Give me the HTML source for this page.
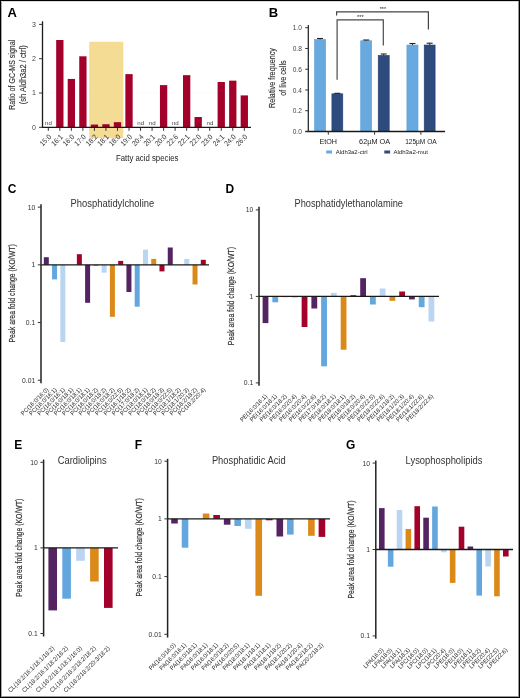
<!DOCTYPE html>
<html><head><meta charset="utf-8"><style>
html,body{margin:0;padding:0;background:#fff;}
svg{display:block;will-change:transform;}
text{font-family:"Liberation Sans",sans-serif;}
</style></head><body>
<svg width="520" height="698" viewBox="0 0 520 698">
<rect x="0" y="0" width="520" height="698" fill="#fff"/>
<text x="7.60" y="16.60" font-size="13" fill="#000" text-anchor="start" font-weight="bold">A</text>
<line x1="42.50" y1="93.00" x2="251.00" y2="93.00" stroke="#f4f4f4" stroke-width="0.6" stroke-dasharray="1.5 1.5"/>
<rect x="89.20" y="41.80" width="34.10" height="96.30" fill="#F4DC95"/>
<text x="48.50" y="124.70" font-size="6.0" fill="#444" text-anchor="middle" textLength="6.80" lengthAdjust="spacingAndGlyphs">nd</text>
<line x1="48.30" y1="127.30" x2="48.30" y2="130.80" stroke="#333" stroke-width="1"/>
<text x="51.80" y="137.50" font-size="7.4" fill="#333" text-anchor="end" textLength="12.85" lengthAdjust="spacingAndGlyphs" transform="rotate(-45 51.80 137.50)">15:0</text>
<rect x="56.18" y="40.01" width="7.30" height="87.29" fill="#A3002B"/>
<line x1="59.83" y1="127.30" x2="59.83" y2="130.80" stroke="#333" stroke-width="1"/>
<text x="63.33" y="137.50" font-size="7.4" fill="#333" text-anchor="end" textLength="12.85" lengthAdjust="spacingAndGlyphs" transform="rotate(-45 63.33 137.50)">16:1</text>
<rect x="67.71" y="78.94" width="7.30" height="48.36" fill="#A3002B"/>
<line x1="71.36" y1="127.30" x2="71.36" y2="130.80" stroke="#333" stroke-width="1"/>
<text x="74.86" y="137.50" font-size="7.4" fill="#333" text-anchor="end" textLength="12.85" lengthAdjust="spacingAndGlyphs" transform="rotate(-45 74.86 137.50)">16:0</text>
<rect x="79.24" y="56.30" width="7.30" height="71.00" fill="#A3002B"/>
<line x1="82.89" y1="127.30" x2="82.89" y2="130.80" stroke="#333" stroke-width="1"/>
<text x="86.39" y="137.50" font-size="7.4" fill="#333" text-anchor="end" textLength="12.85" lengthAdjust="spacingAndGlyphs" transform="rotate(-45 86.39 137.50)">17:0</text>
<rect x="90.77" y="124.56" width="7.30" height="2.74" fill="#A3002B"/>
<line x1="94.42" y1="127.30" x2="94.42" y2="130.80" stroke="#333" stroke-width="1"/>
<text x="97.92" y="137.50" font-size="7.4" fill="#333" text-anchor="end" textLength="12.85" lengthAdjust="spacingAndGlyphs" transform="rotate(-45 97.92 137.50)">18:2</text>
<rect x="102.30" y="124.21" width="7.30" height="3.09" fill="#A3002B"/>
<line x1="105.95" y1="127.30" x2="105.95" y2="130.80" stroke="#333" stroke-width="1"/>
<text x="109.45" y="137.50" font-size="7.4" fill="#333" text-anchor="end" textLength="12.85" lengthAdjust="spacingAndGlyphs" transform="rotate(-45 109.45 137.50)">18:1</text>
<rect x="113.83" y="122.16" width="7.30" height="5.15" fill="#A3002B"/>
<line x1="117.48" y1="127.30" x2="117.48" y2="130.80" stroke="#333" stroke-width="1"/>
<text x="120.98" y="137.50" font-size="7.4" fill="#333" text-anchor="end" textLength="12.85" lengthAdjust="spacingAndGlyphs" transform="rotate(-45 120.98 137.50)">18:0</text>
<rect x="125.36" y="74.13" width="7.30" height="53.17" fill="#A3002B"/>
<line x1="129.01" y1="127.30" x2="129.01" y2="130.80" stroke="#333" stroke-width="1"/>
<text x="132.51" y="137.50" font-size="7.4" fill="#333" text-anchor="end" textLength="12.85" lengthAdjust="spacingAndGlyphs" transform="rotate(-45 132.51 137.50)">19:0</text>
<text x="140.74" y="124.70" font-size="6.0" fill="#444" text-anchor="middle" textLength="6.80" lengthAdjust="spacingAndGlyphs">nd</text>
<line x1="140.54" y1="127.30" x2="140.54" y2="130.80" stroke="#333" stroke-width="1"/>
<text x="144.04" y="137.50" font-size="7.4" fill="#333" text-anchor="end" textLength="12.85" lengthAdjust="spacingAndGlyphs" transform="rotate(-45 144.04 137.50)">20:4</text>
<text x="152.27" y="124.70" font-size="6.0" fill="#444" text-anchor="middle" textLength="6.80" lengthAdjust="spacingAndGlyphs">nd</text>
<line x1="152.07" y1="127.30" x2="152.07" y2="130.80" stroke="#333" stroke-width="1"/>
<text x="155.57" y="137.50" font-size="7.4" fill="#333" text-anchor="end" textLength="12.85" lengthAdjust="spacingAndGlyphs" transform="rotate(-45 155.57 137.50)">20:1</text>
<rect x="159.95" y="85.11" width="7.30" height="42.19" fill="#A3002B"/>
<line x1="163.60" y1="127.30" x2="163.60" y2="130.80" stroke="#333" stroke-width="1"/>
<text x="167.10" y="137.50" font-size="7.4" fill="#333" text-anchor="end" textLength="12.85" lengthAdjust="spacingAndGlyphs" transform="rotate(-45 167.10 137.50)">20:0</text>
<text x="175.33" y="124.70" font-size="6.0" fill="#444" text-anchor="middle" textLength="6.80" lengthAdjust="spacingAndGlyphs">nd</text>
<line x1="175.13" y1="127.30" x2="175.13" y2="130.80" stroke="#333" stroke-width="1"/>
<text x="178.63" y="137.50" font-size="7.4" fill="#333" text-anchor="end" textLength="12.85" lengthAdjust="spacingAndGlyphs" transform="rotate(-45 178.63 137.50)">22:6</text>
<rect x="183.01" y="75.16" width="7.30" height="52.14" fill="#A3002B"/>
<line x1="186.66" y1="127.30" x2="186.66" y2="130.80" stroke="#333" stroke-width="1"/>
<text x="190.16" y="137.50" font-size="7.4" fill="#333" text-anchor="end" textLength="12.85" lengthAdjust="spacingAndGlyphs" transform="rotate(-45 190.16 137.50)">22:1</text>
<rect x="194.54" y="117.01" width="7.30" height="10.29" fill="#A3002B"/>
<line x1="198.19" y1="127.30" x2="198.19" y2="130.80" stroke="#333" stroke-width="1"/>
<text x="201.69" y="137.50" font-size="7.4" fill="#333" text-anchor="end" textLength="12.85" lengthAdjust="spacingAndGlyphs" transform="rotate(-45 201.69 137.50)">22:0</text>
<text x="209.92" y="124.70" font-size="6.0" fill="#444" text-anchor="middle" textLength="6.80" lengthAdjust="spacingAndGlyphs">nd</text>
<line x1="209.72" y1="127.30" x2="209.72" y2="130.80" stroke="#333" stroke-width="1"/>
<text x="213.22" y="137.50" font-size="7.4" fill="#333" text-anchor="end" textLength="12.85" lengthAdjust="spacingAndGlyphs" transform="rotate(-45 213.22 137.50)">23:0</text>
<rect x="217.60" y="82.02" width="7.30" height="45.28" fill="#A3002B"/>
<line x1="221.25" y1="127.30" x2="221.25" y2="130.80" stroke="#333" stroke-width="1"/>
<text x="224.75" y="137.50" font-size="7.4" fill="#333" text-anchor="end" textLength="12.85" lengthAdjust="spacingAndGlyphs" transform="rotate(-45 224.75 137.50)">24:1</text>
<rect x="229.13" y="80.65" width="7.30" height="46.65" fill="#A3002B"/>
<line x1="232.78" y1="127.30" x2="232.78" y2="130.80" stroke="#333" stroke-width="1"/>
<text x="236.28" y="137.50" font-size="7.4" fill="#333" text-anchor="end" textLength="12.85" lengthAdjust="spacingAndGlyphs" transform="rotate(-45 236.28 137.50)">24:0</text>
<rect x="240.66" y="95.40" width="7.30" height="31.90" fill="#A3002B"/>
<line x1="244.31" y1="127.30" x2="244.31" y2="130.80" stroke="#333" stroke-width="1"/>
<text x="247.81" y="137.50" font-size="7.4" fill="#333" text-anchor="end" textLength="12.85" lengthAdjust="spacingAndGlyphs" transform="rotate(-45 247.81 137.50)">26:0</text>
<line x1="42.50" y1="21.30" x2="42.50" y2="127.90" stroke="#1a1a1a" stroke-width="1.3"/>
<line x1="41.90" y1="127.30" x2="251.00" y2="127.30" stroke="#1a1a1a" stroke-width="1.3"/>
<line x1="39.10" y1="127.30" x2="42.50" y2="127.30" stroke="#333" stroke-width="1"/>
<text x="35.90" y="129.70" font-size="8.0" fill="#444" text-anchor="end" textLength="3.90" lengthAdjust="spacingAndGlyphs">0</text>
<line x1="39.10" y1="93.00" x2="42.50" y2="93.00" stroke="#333" stroke-width="1"/>
<text x="35.90" y="95.40" font-size="8.0" fill="#444" text-anchor="end" textLength="3.90" lengthAdjust="spacingAndGlyphs">1</text>
<line x1="39.10" y1="58.70" x2="42.50" y2="58.70" stroke="#333" stroke-width="1"/>
<text x="35.90" y="61.10" font-size="8.0" fill="#444" text-anchor="end" textLength="3.90" lengthAdjust="spacingAndGlyphs">2</text>
<line x1="39.10" y1="24.40" x2="42.50" y2="24.40" stroke="#333" stroke-width="1"/>
<text x="35.90" y="26.80" font-size="8.0" fill="#444" text-anchor="end" textLength="3.90" lengthAdjust="spacingAndGlyphs">3</text>
<text x="15.30" y="74.80" font-size="8.8" fill="#333" text-anchor="middle" textLength="70.00" lengthAdjust="spacingAndGlyphs" transform="rotate(-90 15.30 74.80)" stroke="#333" stroke-width="0.15">Ratio of GC-MS signal</text>
<text x="26.10" y="74.80" font-size="8.8" fill="#333" text-anchor="middle" textLength="59.00" lengthAdjust="spacingAndGlyphs" transform="rotate(-90 26.10 74.80)" stroke="#333" stroke-width="0.15">(sh Aldh3a2 / ctrl)</text>
<text x="147.20" y="160.90" font-size="9.2" fill="#222" text-anchor="middle" textLength="62.50" lengthAdjust="spacingAndGlyphs">Fatty acid species</text>
<text x="268.80" y="16.80" font-size="13" fill="#000" text-anchor="start" font-weight="bold">B</text>
<path d="M336.6 15.4 V11.9 H428.4 V29.6" fill="none" stroke="#444" stroke-width="1.2"/>
<path d="M337.1 79.8 V19.8 H383.3 V45.5" fill="none" stroke="#4a4a4a" stroke-width="1.2"/>
<text x="382.90" y="10.60" font-size="5.4" fill="#222" text-anchor="middle" textLength="6.40" lengthAdjust="spacingAndGlyphs">***</text>
<text x="360.40" y="18.60" font-size="5.4" fill="#222" text-anchor="middle" textLength="6.60" lengthAdjust="spacingAndGlyphs">***</text>
<rect x="314.50" y="39.53" width="11.10" height="91.97" fill="#68AAE0" stroke="#5C9FD8" stroke-width="0.6"/>
<line x1="320.05" y1="38.50" x2="320.05" y2="39.53" stroke="#222" stroke-width="0.9"/>
<line x1="317.05" y1="38.50" x2="323.05" y2="38.50" stroke="#222" stroke-width="1.1"/>
<rect x="331.90" y="93.82" width="10.90" height="37.68" fill="#2E4B7D" stroke="#223D6E" stroke-width="0.6"/>
<line x1="337.35" y1="93.30" x2="337.35" y2="93.82" stroke="#222" stroke-width="0.9"/>
<line x1="334.35" y1="93.30" x2="340.35" y2="93.30" stroke="#222" stroke-width="1.1"/>
<rect x="360.70" y="40.78" width="11.00" height="90.72" fill="#68AAE0" stroke="#5C9FD8" stroke-width="0.6"/>
<line x1="366.20" y1="40.00" x2="366.20" y2="40.78" stroke="#222" stroke-width="0.9"/>
<line x1="363.20" y1="40.00" x2="369.20" y2="40.00" stroke="#222" stroke-width="1.1"/>
<rect x="378.20" y="55.41" width="11.00" height="76.09" fill="#2E4B7D" stroke="#223D6E" stroke-width="0.6"/>
<line x1="383.70" y1="54.00" x2="383.70" y2="55.41" stroke="#222" stroke-width="0.9"/>
<line x1="380.70" y1="54.00" x2="386.70" y2="54.00" stroke="#222" stroke-width="1.1"/>
<rect x="406.90" y="45.03" width="11.10" height="86.47" fill="#68AAE0" stroke="#5C9FD8" stroke-width="0.6"/>
<line x1="412.45" y1="43.50" x2="412.45" y2="45.03" stroke="#222" stroke-width="0.9"/>
<line x1="409.45" y1="43.50" x2="415.45" y2="43.50" stroke="#222" stroke-width="1.1"/>
<rect x="424.20" y="45.03" width="10.90" height="86.47" fill="#2E4B7D" stroke="#223D6E" stroke-width="0.6"/>
<line x1="429.65" y1="43.20" x2="429.65" y2="45.03" stroke="#222" stroke-width="0.9"/>
<line x1="426.65" y1="43.20" x2="432.65" y2="43.20" stroke="#222" stroke-width="1.1"/>
<line x1="308.30" y1="25.00" x2="308.30" y2="132.10" stroke="#1a1a1a" stroke-width="1.2"/>
<line x1="305.50" y1="131.50" x2="445.00" y2="131.50" stroke="#1a1a1a" stroke-width="1.3"/>
<line x1="305.20" y1="131.50" x2="308.30" y2="131.50" stroke="#333" stroke-width="1"/>
<text x="301.90" y="134.10" font-size="7.2" fill="#444" text-anchor="end" textLength="9.20" lengthAdjust="spacingAndGlyphs">0.0</text>
<line x1="305.20" y1="110.74" x2="308.30" y2="110.74" stroke="#333" stroke-width="1"/>
<text x="301.90" y="113.34" font-size="7.2" fill="#444" text-anchor="end" textLength="9.20" lengthAdjust="spacingAndGlyphs">0.2</text>
<line x1="305.20" y1="89.98" x2="308.30" y2="89.98" stroke="#333" stroke-width="1"/>
<text x="301.90" y="92.58" font-size="7.2" fill="#444" text-anchor="end" textLength="9.20" lengthAdjust="spacingAndGlyphs">0.4</text>
<line x1="305.20" y1="69.22" x2="308.30" y2="69.22" stroke="#333" stroke-width="1"/>
<text x="301.90" y="71.82" font-size="7.2" fill="#444" text-anchor="end" textLength="9.20" lengthAdjust="spacingAndGlyphs">0.6</text>
<line x1="305.20" y1="48.46" x2="308.30" y2="48.46" stroke="#333" stroke-width="1"/>
<text x="301.90" y="51.06" font-size="7.2" fill="#444" text-anchor="end" textLength="9.20" lengthAdjust="spacingAndGlyphs">0.8</text>
<line x1="305.20" y1="27.70" x2="308.30" y2="27.70" stroke="#333" stroke-width="1"/>
<text x="301.90" y="30.30" font-size="7.2" fill="#444" text-anchor="end" textLength="9.20" lengthAdjust="spacingAndGlyphs">1.0</text>
<line x1="328.30" y1="131.50" x2="328.30" y2="134.70" stroke="#333" stroke-width="1"/>
<text x="328.30" y="143.50" font-size="6.9" fill="#1a1a1a" text-anchor="middle" textLength="17.50" lengthAdjust="spacingAndGlyphs">EtOH</text>
<line x1="374.60" y1="131.50" x2="374.60" y2="134.70" stroke="#333" stroke-width="1"/>
<text x="374.60" y="143.50" font-size="6.9" fill="#1a1a1a" text-anchor="middle" textLength="31.00" lengthAdjust="spacingAndGlyphs">62µM OA</text>
<line x1="420.90" y1="131.50" x2="420.90" y2="134.70" stroke="#333" stroke-width="1"/>
<text x="420.90" y="143.50" font-size="6.9" fill="#1a1a1a" text-anchor="middle" textLength="31.50" lengthAdjust="spacingAndGlyphs">125µM OA</text>
<rect x="326.20" y="150.50" width="5.80" height="3.00" fill="#68AAE0"/>
<text x="335.80" y="153.70" font-size="5.7" fill="#222" text-anchor="start" textLength="31.80" lengthAdjust="spacingAndGlyphs">Aldh3a2-ctrl</text>
<rect x="384.30" y="150.50" width="5.80" height="3.00" fill="#2E4B7D"/>
<text x="393.40" y="153.70" font-size="5.7" fill="#222" text-anchor="start" textLength="34.60" lengthAdjust="spacingAndGlyphs">Aldh3a2-mut</text>
<text x="275.30" y="78.00" font-size="8.4" fill="#333" text-anchor="middle" textLength="60.00" lengthAdjust="spacingAndGlyphs" transform="rotate(-90 275.30 78.00)" stroke="#333" stroke-width="0.15">Relative frequency</text>
<text x="285.90" y="78.00" font-size="8.4" fill="#333" text-anchor="middle" textLength="35.40" lengthAdjust="spacingAndGlyphs" transform="rotate(-90 285.90 78.00)" stroke="#333" stroke-width="0.15">of live cells</text>
<text x="7.80" y="193.00" font-size="13" fill="#000" text-anchor="start" textLength="8.64" lengthAdjust="spacingAndGlyphs" font-weight="bold">C</text>
<text x="70.60" y="206.90" font-size="10.6" fill="#333" text-anchor="start" textLength="83.60" lengthAdjust="spacingAndGlyphs">Phosphatidylcholine</text>
<rect x="43.80" y="257.20" width="5.00" height="7.65" fill="#532461"/>
<text x="48.80" y="390.20" font-size="6.032" fill="#2a2a2a" text-anchor="end" textLength="36.11" lengthAdjust="spacingAndGlyphs" transform="rotate(-45 48.80 390.20)">PC(16:0/16:0)</text>
<rect x="52.06" y="264.85" width="5.00" height="14.55" fill="#63A7DE"/>
<text x="57.06" y="390.20" font-size="6.032" fill="#2a2a2a" text-anchor="end" textLength="36.11" lengthAdjust="spacingAndGlyphs" transform="rotate(-45 57.06 390.20)">PC(16:0/16:1)</text>
<rect x="60.33" y="264.85" width="5.00" height="77.15" fill="#B9D5F1"/>
<text x="65.33" y="390.20" font-size="6.032" fill="#2a2a2a" text-anchor="end" textLength="36.11" lengthAdjust="spacingAndGlyphs" transform="rotate(-45 65.33 390.20)">PC(16:0/16:1)</text>
<text x="73.59" y="390.20" font-size="6.032" fill="#2a2a2a" text-anchor="end" textLength="36.11" lengthAdjust="spacingAndGlyphs" transform="rotate(-45 73.59 390.20)">PC(16:0/18:1)</text>
<rect x="76.85" y="254.20" width="5.00" height="10.65" fill="#A3002B"/>
<text x="81.85" y="390.20" font-size="6.032" fill="#2a2a2a" text-anchor="end" textLength="36.11" lengthAdjust="spacingAndGlyphs" transform="rotate(-45 81.85 390.20)">PC(16:0/18:1)</text>
<rect x="85.11" y="264.85" width="5.00" height="37.95" fill="#532461"/>
<text x="90.11" y="390.20" font-size="6.032" fill="#2a2a2a" text-anchor="end" textLength="36.11" lengthAdjust="spacingAndGlyphs" transform="rotate(-45 90.11 390.20)">PC(16:0/18:1)</text>
<rect x="93.38" y="264.85" width="5.00" height="1.00" fill="#63A7DE"/>
<text x="98.38" y="390.20" font-size="6.032" fill="#2a2a2a" text-anchor="end" textLength="36.11" lengthAdjust="spacingAndGlyphs" transform="rotate(-45 98.38 390.20)">PC(16:0/18:2)</text>
<rect x="101.64" y="264.85" width="5.00" height="7.85" fill="#B9D5F1"/>
<text x="106.64" y="390.20" font-size="6.032" fill="#2a2a2a" text-anchor="end" textLength="36.11" lengthAdjust="spacingAndGlyphs" transform="rotate(-45 106.64 390.20)">PC(16:0/18:2)</text>
<rect x="109.90" y="264.85" width="5.00" height="51.95" fill="#DB8A19"/>
<text x="114.90" y="390.20" font-size="6.032" fill="#2a2a2a" text-anchor="end" textLength="36.11" lengthAdjust="spacingAndGlyphs" transform="rotate(-45 114.90 390.20)">PC(16:0/18:2)</text>
<rect x="118.17" y="260.90" width="5.00" height="3.95" fill="#A3002B"/>
<text x="123.17" y="390.20" font-size="6.032" fill="#2a2a2a" text-anchor="end" textLength="36.11" lengthAdjust="spacingAndGlyphs" transform="rotate(-45 123.17 390.20)">PC(16:0/22:5)</text>
<rect x="126.43" y="264.85" width="5.00" height="27.15" fill="#532461"/>
<text x="131.43" y="390.20" font-size="6.032" fill="#2a2a2a" text-anchor="end" textLength="36.11" lengthAdjust="spacingAndGlyphs" transform="rotate(-45 131.43 390.20)">PC(16:1/18:2)</text>
<rect x="134.69" y="264.85" width="5.00" height="41.85" fill="#63A7DE"/>
<text x="139.69" y="390.20" font-size="6.032" fill="#2a2a2a" text-anchor="end" textLength="36.11" lengthAdjust="spacingAndGlyphs" transform="rotate(-45 139.69 390.20)">PC(17:0/18:2)</text>
<rect x="142.96" y="249.70" width="5.00" height="15.15" fill="#B9D5F1"/>
<text x="147.96" y="390.20" font-size="6.032" fill="#2a2a2a" text-anchor="end" textLength="36.11" lengthAdjust="spacingAndGlyphs" transform="rotate(-45 147.96 390.20)">PC(18:0/18:1)</text>
<rect x="151.22" y="258.90" width="5.00" height="5.95" fill="#DB8A19"/>
<text x="156.22" y="390.20" font-size="6.032" fill="#2a2a2a" text-anchor="end" textLength="36.11" lengthAdjust="spacingAndGlyphs" transform="rotate(-45 156.22 390.20)">PC(18:0/18:2)</text>
<rect x="159.48" y="264.85" width="5.00" height="6.55" fill="#A3002B"/>
<text x="164.48" y="390.20" font-size="6.032" fill="#2a2a2a" text-anchor="end" textLength="36.11" lengthAdjust="spacingAndGlyphs" transform="rotate(-45 164.48 390.20)">PC(18:0/18:3)</text>
<rect x="167.75" y="247.50" width="5.00" height="17.35" fill="#532461"/>
<text x="172.75" y="390.20" font-size="6.032" fill="#2a2a2a" text-anchor="end" textLength="36.11" lengthAdjust="spacingAndGlyphs" transform="rotate(-45 172.75 390.20)">PC(18:0/22:5)</text>
<text x="181.01" y="390.20" font-size="6.032" fill="#2a2a2a" text-anchor="end" textLength="36.11" lengthAdjust="spacingAndGlyphs" transform="rotate(-45 181.01 390.20)">PC(18:1/18:2)</text>
<rect x="184.27" y="258.90" width="5.00" height="5.95" fill="#B9D5F1"/>
<text x="189.27" y="390.20" font-size="6.032" fill="#2a2a2a" text-anchor="end" textLength="36.11" lengthAdjust="spacingAndGlyphs" transform="rotate(-45 189.27 390.20)">PC(18:1/20:3)</text>
<rect x="192.53" y="264.85" width="5.00" height="19.65" fill="#DB8A19"/>
<text x="197.53" y="390.20" font-size="6.032" fill="#2a2a2a" text-anchor="end" textLength="36.11" lengthAdjust="spacingAndGlyphs" transform="rotate(-45 197.53 390.20)">PC(18:2/18:2)</text>
<rect x="200.80" y="259.80" width="5.00" height="5.05" fill="#A3002B"/>
<text x="205.80" y="390.20" font-size="6.032" fill="#2a2a2a" text-anchor="end" textLength="36.11" lengthAdjust="spacingAndGlyphs" transform="rotate(-45 205.80 390.20)">PC(18:2/20:4)</text>
<line x1="41.00" y1="264.85" x2="209.00" y2="264.85" stroke="#1a1a1a" stroke-width="1.35"/>
<line x1="41.00" y1="204.20" x2="41.00" y2="383.20" stroke="#222" stroke-width="1.5"/>
<line x1="37.80" y1="207.15" x2="41.00" y2="207.15" stroke="#333" stroke-width="1"/>
<text x="35.20" y="209.65" font-size="7.1" fill="#333" text-anchor="end" textLength="7.56" lengthAdjust="spacingAndGlyphs">10</text>
<line x1="37.80" y1="264.85" x2="41.00" y2="264.85" stroke="#333" stroke-width="1"/>
<text x="35.20" y="267.35" font-size="7.1" fill="#333" text-anchor="end" textLength="3.78" lengthAdjust="spacingAndGlyphs">1</text>
<line x1="37.80" y1="322.55" x2="41.00" y2="322.55" stroke="#333" stroke-width="1"/>
<text x="35.20" y="325.05" font-size="7.1" fill="#333" text-anchor="end" textLength="9.45" lengthAdjust="spacingAndGlyphs">0.1</text>
<line x1="37.80" y1="380.25" x2="41.00" y2="380.25" stroke="#333" stroke-width="1"/>
<text x="35.20" y="382.75" font-size="7.1" fill="#333" text-anchor="end" textLength="13.23" lengthAdjust="spacingAndGlyphs">0.01</text>
<text x="15.00" y="293.40" font-size="8.8" fill="#333" text-anchor="middle" textLength="98.20" lengthAdjust="spacingAndGlyphs" transform="rotate(-90 15.00 293.40)" stroke="#333" stroke-width="0.2">Peak area fold change (KO/WT)</text>
<text x="225.40" y="192.80" font-size="13" fill="#000" text-anchor="start" textLength="8.64" lengthAdjust="spacingAndGlyphs" font-weight="bold">D</text>
<text x="294.50" y="206.75" font-size="10.6" fill="#333" text-anchor="start" textLength="108.50" lengthAdjust="spacingAndGlyphs">Phosphatidylethanolamine</text>
<rect x="262.60" y="296.40" width="5.80" height="26.70" fill="#532461"/>
<text x="267.70" y="396.70" font-size="6.032" fill="#2a2a2a" text-anchor="end" textLength="35.79" lengthAdjust="spacingAndGlyphs" transform="rotate(-45 267.70 396.70)">PE(16:0/16:1)</text>
<rect x="272.36" y="296.40" width="5.80" height="5.90" fill="#63A7DE"/>
<text x="277.46" y="396.70" font-size="6.032" fill="#2a2a2a" text-anchor="end" textLength="35.79" lengthAdjust="spacingAndGlyphs" transform="rotate(-45 277.46 396.70)">PE(16:0/18:1)</text>
<rect x="282.12" y="296.40" width="5.80" height="1.00" fill="#B9D5F1"/>
<text x="287.22" y="396.70" font-size="6.032" fill="#2a2a2a" text-anchor="end" textLength="35.79" lengthAdjust="spacingAndGlyphs" transform="rotate(-45 287.22 396.70)">PE(16:0/18:2)</text>
<rect x="291.88" y="296.40" width="5.80" height="1.00" fill="#DB8A19"/>
<text x="296.98" y="396.70" font-size="6.032" fill="#2a2a2a" text-anchor="end" textLength="35.79" lengthAdjust="spacingAndGlyphs" transform="rotate(-45 296.98 396.70)">PE(16:0/20:4)</text>
<rect x="301.64" y="296.40" width="5.80" height="30.60" fill="#A3002B"/>
<text x="306.74" y="396.70" font-size="6.032" fill="#2a2a2a" text-anchor="end" textLength="35.79" lengthAdjust="spacingAndGlyphs" transform="rotate(-45 306.74 396.70)">PE(16:0/20:4)</text>
<rect x="311.40" y="296.40" width="5.80" height="12.10" fill="#532461"/>
<text x="316.50" y="396.70" font-size="6.032" fill="#2a2a2a" text-anchor="end" textLength="35.79" lengthAdjust="spacingAndGlyphs" transform="rotate(-45 316.50 396.70)">PE(16:0/22:6)</text>
<rect x="321.16" y="296.40" width="5.80" height="69.90" fill="#63A7DE"/>
<text x="326.26" y="396.70" font-size="6.032" fill="#2a2a2a" text-anchor="end" textLength="35.79" lengthAdjust="spacingAndGlyphs" transform="rotate(-45 326.26 396.70)">PE(17:0/18:2)</text>
<rect x="330.92" y="292.90" width="5.80" height="3.50" fill="#B9D5F1"/>
<text x="336.02" y="396.70" font-size="6.032" fill="#2a2a2a" text-anchor="end" textLength="35.79" lengthAdjust="spacingAndGlyphs" transform="rotate(-45 336.02 396.70)">PE(18:0/18:1)</text>
<rect x="340.68" y="296.40" width="5.80" height="53.30" fill="#DB8A19"/>
<text x="345.78" y="396.70" font-size="6.032" fill="#2a2a2a" text-anchor="end" textLength="35.79" lengthAdjust="spacingAndGlyphs" transform="rotate(-45 345.78 396.70)">PE(18:0/18:1)</text>
<rect x="350.44" y="295.20" width="5.80" height="1.20" fill="#A3002B"/>
<text x="355.54" y="396.70" font-size="6.032" fill="#2a2a2a" text-anchor="end" textLength="35.79" lengthAdjust="spacingAndGlyphs" transform="rotate(-45 355.54 396.70)">PE(18:0/18:2)</text>
<rect x="360.20" y="278.20" width="5.80" height="18.20" fill="#532461"/>
<text x="365.30" y="396.70" font-size="6.032" fill="#2a2a2a" text-anchor="end" textLength="35.79" lengthAdjust="spacingAndGlyphs" transform="rotate(-45 365.30 396.70)">PE(18:0/20:4)</text>
<rect x="369.96" y="296.40" width="5.80" height="8.10" fill="#63A7DE"/>
<text x="375.06" y="396.70" font-size="6.032" fill="#2a2a2a" text-anchor="end" textLength="35.79" lengthAdjust="spacingAndGlyphs" transform="rotate(-45 375.06 396.70)">PE(18:0/22:5)</text>
<rect x="379.72" y="288.50" width="5.80" height="7.90" fill="#B9D5F1"/>
<text x="384.82" y="396.70" font-size="6.032" fill="#2a2a2a" text-anchor="end" textLength="35.79" lengthAdjust="spacingAndGlyphs" transform="rotate(-45 384.82 396.70)">PE(18:0/22:6)</text>
<rect x="389.48" y="296.40" width="5.80" height="4.40" fill="#DB8A19"/>
<text x="394.58" y="396.70" font-size="6.032" fill="#2a2a2a" text-anchor="end" textLength="35.79" lengthAdjust="spacingAndGlyphs" transform="rotate(-45 394.58 396.70)">PE(18:1/18:2)</text>
<rect x="399.24" y="291.50" width="5.80" height="4.90" fill="#A3002B"/>
<text x="404.34" y="396.70" font-size="6.032" fill="#2a2a2a" text-anchor="end" textLength="35.79" lengthAdjust="spacingAndGlyphs" transform="rotate(-45 404.34 396.70)">PE(18:1/20:3)</text>
<rect x="409.00" y="296.40" width="5.80" height="3.00" fill="#532461"/>
<text x="414.10" y="396.70" font-size="6.032" fill="#2a2a2a" text-anchor="end" textLength="35.79" lengthAdjust="spacingAndGlyphs" transform="rotate(-45 414.10 396.70)">PE(18:1/20:4)</text>
<rect x="418.76" y="296.40" width="5.80" height="10.80" fill="#63A7DE"/>
<text x="423.86" y="396.70" font-size="6.032" fill="#2a2a2a" text-anchor="end" textLength="35.79" lengthAdjust="spacingAndGlyphs" transform="rotate(-45 423.86 396.70)">PE(18:1/22:6)</text>
<rect x="428.52" y="296.40" width="5.80" height="25.10" fill="#B9D5F1"/>
<text x="433.62" y="396.70" font-size="6.032" fill="#2a2a2a" text-anchor="end" textLength="35.79" lengthAdjust="spacingAndGlyphs" transform="rotate(-45 433.62 396.70)">PE(18:2/22:6)</text>
<line x1="259.00" y1="296.40" x2="439.00" y2="296.40" stroke="#1a1a1a" stroke-width="1.35"/>
<line x1="259.00" y1="206.80" x2="259.00" y2="385.80" stroke="#222" stroke-width="1.5"/>
<line x1="255.80" y1="209.90" x2="259.00" y2="209.90" stroke="#333" stroke-width="1"/>
<text x="253.20" y="212.40" font-size="7.1" fill="#333" text-anchor="end" textLength="7.56" lengthAdjust="spacingAndGlyphs">10</text>
<line x1="255.80" y1="296.40" x2="259.00" y2="296.40" stroke="#333" stroke-width="1"/>
<text x="253.20" y="298.90" font-size="7.1" fill="#333" text-anchor="end" textLength="3.78" lengthAdjust="spacingAndGlyphs">1</text>
<line x1="255.80" y1="382.90" x2="259.00" y2="382.90" stroke="#333" stroke-width="1"/>
<text x="253.20" y="385.40" font-size="7.1" fill="#333" text-anchor="end" textLength="9.45" lengthAdjust="spacingAndGlyphs">0.1</text>
<text x="233.80" y="296.05" font-size="8.8" fill="#333" text-anchor="middle" textLength="98.20" lengthAdjust="spacingAndGlyphs" transform="rotate(-90 233.80 296.05)" stroke="#333" stroke-width="0.2">Peak area fold change (KO/WT)</text>
<text x="14.20" y="448.90" font-size="13" fill="#000" text-anchor="start" textLength="7.98" lengthAdjust="spacingAndGlyphs" font-weight="bold">E</text>
<text x="57.70" y="463.80" font-size="10.6" fill="#333" text-anchor="start" textLength="48.90" lengthAdjust="spacingAndGlyphs">Cardiolipins</text>
<rect x="48.40" y="547.90" width="8.60" height="62.50" fill="#532461"/>
<text x="54.60" y="648.70" font-size="6.136000000000001" fill="#2a2a2a" text-anchor="end" textLength="62.32" lengthAdjust="spacingAndGlyphs" transform="rotate(-45 54.60 648.70)">CL(18:2/16:1/18:1/18:2)</text>
<rect x="62.30" y="547.90" width="8.60" height="50.80" fill="#63A7DE"/>
<text x="68.50" y="648.70" font-size="6.136000000000001" fill="#2a2a2a" text-anchor="end" textLength="62.32" lengthAdjust="spacingAndGlyphs" transform="rotate(-45 68.50 648.70)">CL(18:2/16:1/18:2/18:2)</text>
<rect x="76.20" y="547.90" width="8.60" height="12.90" fill="#B9D5F1"/>
<text x="82.40" y="648.70" font-size="6.136000000000001" fill="#2a2a2a" text-anchor="end" textLength="62.32" lengthAdjust="spacingAndGlyphs" transform="rotate(-45 82.40 648.70)">CL(18:2/18:1/18:1/16:0)</text>
<rect x="90.10" y="547.90" width="8.60" height="33.60" fill="#DB8A19"/>
<text x="96.30" y="648.70" font-size="6.136000000000001" fill="#2a2a2a" text-anchor="end" textLength="62.32" lengthAdjust="spacingAndGlyphs" transform="rotate(-45 96.30 648.70)">CL(18:2/18:2/18:2/18:2)</text>
<rect x="104.00" y="547.90" width="8.60" height="60.00" fill="#A3002B"/>
<text x="110.20" y="648.70" font-size="6.136000000000001" fill="#2a2a2a" text-anchor="end" textLength="62.32" lengthAdjust="spacingAndGlyphs" transform="rotate(-45 110.20 648.70)">CL(18:2/18:2/20:3/18:2)</text>
<line x1="43.60" y1="547.90" x2="118.00" y2="547.90" stroke="#1a1a1a" stroke-width="1.35"/>
<line x1="43.60" y1="459.60" x2="43.60" y2="636.50" stroke="#222" stroke-width="1.5"/>
<line x1="40.40" y1="462.30" x2="43.60" y2="462.30" stroke="#333" stroke-width="1"/>
<text x="37.80" y="464.80" font-size="7.1" fill="#333" text-anchor="end" textLength="7.56" lengthAdjust="spacingAndGlyphs">10</text>
<line x1="40.40" y1="547.90" x2="43.60" y2="547.90" stroke="#333" stroke-width="1"/>
<text x="37.80" y="550.40" font-size="7.1" fill="#333" text-anchor="end" textLength="3.78" lengthAdjust="spacingAndGlyphs">1</text>
<line x1="40.40" y1="633.50" x2="43.60" y2="633.50" stroke="#333" stroke-width="1"/>
<text x="37.80" y="636.00" font-size="7.1" fill="#333" text-anchor="end" textLength="9.45" lengthAdjust="spacingAndGlyphs">0.1</text>
<text x="21.60" y="547.75" font-size="8.8" fill="#333" text-anchor="middle" textLength="98.20" lengthAdjust="spacingAndGlyphs" transform="rotate(-90 21.60 547.75)" stroke="#333" stroke-width="0.2">Peak area fold change (KO/WT)</text>
<text x="134.80" y="448.90" font-size="13" fill="#000" text-anchor="start" textLength="7.31" lengthAdjust="spacingAndGlyphs" font-weight="bold">F</text>
<text x="211.90" y="463.50" font-size="10.6" fill="#333" text-anchor="start" textLength="73.70" lengthAdjust="spacingAndGlyphs">Phosphatidic Acid</text>
<rect x="171.20" y="518.90" width="6.60" height="4.60" fill="#532461"/>
<text x="176.20" y="645.50" font-size="6.032" fill="#2a2a2a" text-anchor="end" textLength="35.36" lengthAdjust="spacingAndGlyphs" transform="rotate(-45 176.20 645.50)">PA(16:0/16:0)</text>
<rect x="181.73" y="518.90" width="6.60" height="28.80" fill="#63A7DE"/>
<text x="186.73" y="645.50" font-size="6.032" fill="#2a2a2a" text-anchor="end" textLength="35.36" lengthAdjust="spacingAndGlyphs" transform="rotate(-45 186.73 645.50)">PA(16:0/16:1)</text>
<text x="197.26" y="645.50" font-size="6.032" fill="#2a2a2a" text-anchor="end" textLength="35.36" lengthAdjust="spacingAndGlyphs" transform="rotate(-45 197.26 645.50)">PA(16:0/18:1)</text>
<rect x="202.79" y="513.50" width="6.60" height="5.40" fill="#DB8A19"/>
<text x="207.79" y="645.50" font-size="6.032" fill="#2a2a2a" text-anchor="end" textLength="35.36" lengthAdjust="spacingAndGlyphs" transform="rotate(-45 207.79 645.50)">PA(16:0/18:1)</text>
<rect x="213.32" y="515.00" width="6.60" height="3.90" fill="#A3002B"/>
<text x="218.32" y="645.50" font-size="6.032" fill="#2a2a2a" text-anchor="end" textLength="35.36" lengthAdjust="spacingAndGlyphs" transform="rotate(-45 218.32 645.50)">PA(16:0/18:1)</text>
<rect x="223.85" y="518.90" width="6.60" height="5.80" fill="#532461"/>
<text x="228.85" y="645.50" font-size="6.032" fill="#2a2a2a" text-anchor="end" textLength="35.36" lengthAdjust="spacingAndGlyphs" transform="rotate(-45 228.85 645.50)">PA(16:0/18:2)</text>
<rect x="234.38" y="518.90" width="6.60" height="7.10" fill="#63A7DE"/>
<text x="239.38" y="645.50" font-size="6.032" fill="#2a2a2a" text-anchor="end" textLength="35.36" lengthAdjust="spacingAndGlyphs" transform="rotate(-45 239.38 645.50)">PA(16:0/20:5)</text>
<rect x="244.91" y="518.90" width="6.60" height="9.90" fill="#B9D5F1"/>
<text x="249.91" y="645.50" font-size="6.032" fill="#2a2a2a" text-anchor="end" textLength="35.36" lengthAdjust="spacingAndGlyphs" transform="rotate(-45 249.91 645.50)">PA(18:0/18:1)</text>
<rect x="255.44" y="518.90" width="6.60" height="76.90" fill="#DB8A19"/>
<text x="260.44" y="645.50" font-size="6.032" fill="#2a2a2a" text-anchor="end" textLength="35.36" lengthAdjust="spacingAndGlyphs" transform="rotate(-45 260.44 645.50)">PA(18:1/18:1)</text>
<rect x="265.97" y="518.90" width="6.60" height="1.40" fill="#A3002B"/>
<text x="270.97" y="645.50" font-size="6.032" fill="#2a2a2a" text-anchor="end" textLength="35.36" lengthAdjust="spacingAndGlyphs" transform="rotate(-45 270.97 645.50)">PA(18:1/18:1)</text>
<rect x="276.50" y="518.90" width="6.60" height="17.60" fill="#532461"/>
<text x="281.50" y="645.50" font-size="6.032" fill="#2a2a2a" text-anchor="end" textLength="35.36" lengthAdjust="spacingAndGlyphs" transform="rotate(-45 281.50 645.50)">PA(18:1/18:2)</text>
<rect x="287.03" y="518.90" width="6.60" height="15.70" fill="#63A7DE"/>
<text x="292.03" y="645.50" font-size="6.032" fill="#2a2a2a" text-anchor="end" textLength="35.36" lengthAdjust="spacingAndGlyphs" transform="rotate(-45 292.03 645.50)">PA(18:1/20:2)</text>
<text x="302.56" y="645.50" font-size="6.032" fill="#2a2a2a" text-anchor="end" textLength="35.36" lengthAdjust="spacingAndGlyphs" transform="rotate(-45 302.56 645.50)">PA(18:1/20:4)</text>
<rect x="308.09" y="518.90" width="6.60" height="16.90" fill="#DB8A19"/>
<text x="313.09" y="645.50" font-size="6.032" fill="#2a2a2a" text-anchor="end" textLength="35.36" lengthAdjust="spacingAndGlyphs" transform="rotate(-45 313.09 645.50)">PA(18:2/18:2)</text>
<rect x="318.62" y="518.90" width="6.60" height="18.00" fill="#A3002B"/>
<text x="323.62" y="645.50" font-size="6.032" fill="#2a2a2a" text-anchor="end" textLength="35.36" lengthAdjust="spacingAndGlyphs" transform="rotate(-45 323.62 645.50)">PA(20:2/18:2)</text>
<line x1="167.60" y1="518.90" x2="330.00" y2="518.90" stroke="#1a1a1a" stroke-width="1.35"/>
<line x1="167.60" y1="458.80" x2="167.60" y2="637.60" stroke="#222" stroke-width="1.5"/>
<line x1="164.40" y1="461.20" x2="167.60" y2="461.20" stroke="#333" stroke-width="1"/>
<text x="161.80" y="463.70" font-size="7.1" fill="#333" text-anchor="end" textLength="7.56" lengthAdjust="spacingAndGlyphs">10</text>
<line x1="164.40" y1="518.90" x2="167.60" y2="518.90" stroke="#333" stroke-width="1"/>
<text x="161.80" y="521.40" font-size="7.1" fill="#333" text-anchor="end" textLength="3.78" lengthAdjust="spacingAndGlyphs">1</text>
<line x1="164.40" y1="576.60" x2="167.60" y2="576.60" stroke="#333" stroke-width="1"/>
<text x="161.80" y="579.10" font-size="7.1" fill="#333" text-anchor="end" textLength="9.45" lengthAdjust="spacingAndGlyphs">0.1</text>
<line x1="164.40" y1="634.30" x2="167.60" y2="634.30" stroke="#333" stroke-width="1"/>
<text x="161.80" y="636.80" font-size="7.1" fill="#333" text-anchor="end" textLength="13.23" lengthAdjust="spacingAndGlyphs">0.01</text>
<text x="142.20" y="547.40" font-size="8.8" fill="#333" text-anchor="middle" textLength="98.20" lengthAdjust="spacingAndGlyphs" transform="rotate(-90 142.20 547.40)" stroke="#333" stroke-width="0.2">Peak area fold change (KO/WT)</text>
<text x="346.00" y="448.80" font-size="13" fill="#000" text-anchor="start" textLength="9.30" lengthAdjust="spacingAndGlyphs" font-weight="bold">G</text>
<text x="405.60" y="463.80" font-size="10.6" fill="#333" text-anchor="start" textLength="76.90" lengthAdjust="spacingAndGlyphs">Lysophospholipids</text>
<rect x="379.00" y="508.10" width="5.60" height="41.40" fill="#532461"/>
<text x="383.80" y="650.50" font-size="6.032" fill="#2a2a2a" text-anchor="end" textLength="25.68" lengthAdjust="spacingAndGlyphs" transform="rotate(-45 383.80 650.50)">LPA(16:0)</text>
<rect x="387.86" y="549.50" width="5.60" height="17.20" fill="#63A7DE"/>
<text x="392.66" y="650.50" font-size="6.032" fill="#2a2a2a" text-anchor="end" textLength="25.68" lengthAdjust="spacingAndGlyphs" transform="rotate(-45 392.66 650.50)">LPA(18:0)</text>
<rect x="396.71" y="510.00" width="5.60" height="39.50" fill="#B9D5F1"/>
<text x="401.51" y="650.50" font-size="6.032" fill="#2a2a2a" text-anchor="end" textLength="25.68" lengthAdjust="spacingAndGlyphs" transform="rotate(-45 401.51 650.50)">LPA(18:1)</text>
<rect x="405.57" y="529.00" width="5.60" height="20.50" fill="#DB8A19"/>
<text x="410.37" y="650.50" font-size="6.032" fill="#2a2a2a" text-anchor="end" textLength="25.68" lengthAdjust="spacingAndGlyphs" transform="rotate(-45 410.37 650.50)">LPA(18:3)</text>
<rect x="414.43" y="506.20" width="5.60" height="43.30" fill="#A3002B"/>
<text x="419.23" y="650.50" font-size="6.032" fill="#2a2a2a" text-anchor="end" textLength="26.43" lengthAdjust="spacingAndGlyphs" transform="rotate(-45 419.23 650.50)">LPC(16:0)</text>
<rect x="423.29" y="517.70" width="5.60" height="31.80" fill="#532461"/>
<text x="428.09" y="650.50" font-size="6.032" fill="#2a2a2a" text-anchor="end" textLength="26.43" lengthAdjust="spacingAndGlyphs" transform="rotate(-45 428.09 650.50)">LPC(18:0)</text>
<rect x="432.14" y="506.50" width="5.60" height="43.00" fill="#63A7DE"/>
<text x="436.94" y="650.50" font-size="6.032" fill="#2a2a2a" text-anchor="end" textLength="26.43" lengthAdjust="spacingAndGlyphs" transform="rotate(-45 436.94 650.50)">LPC(18:1)</text>
<rect x="441.00" y="549.50" width="5.60" height="2.80" fill="#B9D5F1"/>
<text x="445.80" y="650.50" font-size="6.032" fill="#2a2a2a" text-anchor="end" textLength="26.43" lengthAdjust="spacingAndGlyphs" transform="rotate(-45 445.80 650.50)">LPC(20:4)</text>
<rect x="449.86" y="549.50" width="5.60" height="33.40" fill="#DB8A19"/>
<text x="454.66" y="650.50" font-size="6.032" fill="#2a2a2a" text-anchor="end" textLength="26.11" lengthAdjust="spacingAndGlyphs" transform="rotate(-45 454.66 650.50)">LPE(16:0)</text>
<rect x="458.71" y="526.70" width="5.60" height="22.80" fill="#A3002B"/>
<text x="463.51" y="650.50" font-size="6.032" fill="#2a2a2a" text-anchor="end" textLength="26.11" lengthAdjust="spacingAndGlyphs" transform="rotate(-45 463.51 650.50)">LPE(18:0)</text>
<rect x="467.57" y="546.50" width="5.60" height="3.00" fill="#532461"/>
<text x="472.37" y="650.50" font-size="6.032" fill="#2a2a2a" text-anchor="end" textLength="26.11" lengthAdjust="spacingAndGlyphs" transform="rotate(-45 472.37 650.50)">LPE(18:1)</text>
<rect x="476.43" y="549.50" width="5.60" height="46.10" fill="#63A7DE"/>
<text x="481.23" y="650.50" font-size="6.032" fill="#2a2a2a" text-anchor="end" textLength="26.11" lengthAdjust="spacingAndGlyphs" transform="rotate(-45 481.23 650.50)">LPE(18:2)</text>
<rect x="485.28" y="549.50" width="5.60" height="17.00" fill="#B9D5F1"/>
<text x="490.08" y="650.50" font-size="6.032" fill="#2a2a2a" text-anchor="end" textLength="26.11" lengthAdjust="spacingAndGlyphs" transform="rotate(-45 490.08 650.50)">LPE(20:4)</text>
<rect x="494.14" y="549.50" width="5.60" height="46.80" fill="#DB8A19"/>
<text x="498.94" y="650.50" font-size="6.032" fill="#2a2a2a" text-anchor="end" textLength="26.11" lengthAdjust="spacingAndGlyphs" transform="rotate(-45 498.94 650.50)">LPE(22:5)</text>
<rect x="503.00" y="549.50" width="5.60" height="7.00" fill="#A3002B"/>
<text x="507.80" y="650.50" font-size="6.032" fill="#2a2a2a" text-anchor="end" textLength="26.11" lengthAdjust="spacingAndGlyphs" transform="rotate(-45 507.80 650.50)">LPE(22:6)</text>
<line x1="375.80" y1="549.50" x2="513.00" y2="549.50" stroke="#1a1a1a" stroke-width="1.35"/>
<line x1="375.80" y1="460.40" x2="375.80" y2="638.70" stroke="#222" stroke-width="1.5"/>
<line x1="372.60" y1="463.10" x2="375.80" y2="463.10" stroke="#333" stroke-width="1"/>
<text x="370.00" y="465.60" font-size="7.1" fill="#333" text-anchor="end" textLength="7.56" lengthAdjust="spacingAndGlyphs">10</text>
<line x1="372.60" y1="549.50" x2="375.80" y2="549.50" stroke="#333" stroke-width="1"/>
<text x="370.00" y="552.00" font-size="7.1" fill="#333" text-anchor="end" textLength="3.78" lengthAdjust="spacingAndGlyphs">1</text>
<line x1="372.60" y1="635.90" x2="375.80" y2="635.90" stroke="#333" stroke-width="1"/>
<text x="370.00" y="638.40" font-size="7.1" fill="#333" text-anchor="end" textLength="9.45" lengthAdjust="spacingAndGlyphs">0.1</text>
<text x="354.00" y="549.45" font-size="8.8" fill="#333" text-anchor="middle" textLength="98.20" lengthAdjust="spacingAndGlyphs" transform="rotate(-90 354.00 549.45)" stroke="#333" stroke-width="0.2">Peak area fold change (KO/WT)</text>
<line x1="1.50" y1="0.00" x2="1.50" y2="698.00" stroke="#aaa" stroke-width="1"/>
<line x1="0.00" y1="1.50" x2="520.00" y2="1.50" stroke="#ddd" stroke-width="1"/>
<line x1="518.50" y1="0.00" x2="518.50" y2="698.00" stroke="#999" stroke-width="1"/>
<line x1="0.00" y1="696.50" x2="520.00" y2="696.50" stroke="#999" stroke-width="1"/>
<line x1="0.50" y1="0.00" x2="0.50" y2="698.00" stroke="#000" stroke-width="1"/>
<line x1="0.00" y1="0.50" x2="520.00" y2="0.50" stroke="#000" stroke-width="1"/>
<line x1="519.50" y1="0.00" x2="519.50" y2="698.00" stroke="#000" stroke-width="1"/>
<line x1="0.00" y1="697.50" x2="520.00" y2="697.50" stroke="#000" stroke-width="1"/>
</svg>
</body></html>
